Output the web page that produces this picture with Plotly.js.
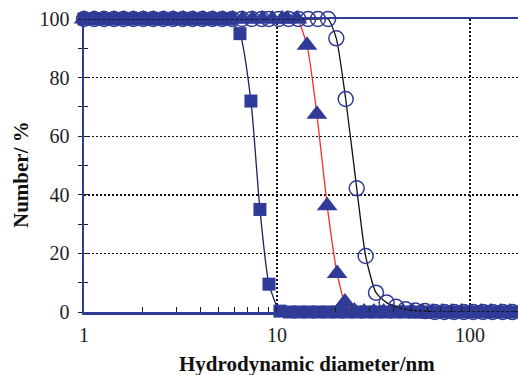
<!DOCTYPE html>
<html>
<head>
<meta charset="utf-8">
<script src="https://cdn.plot.ly/plotly-3.0.1.min.js"></script>
<style>
  html, body { margin: 0; padding: 0; background: #ffffff; overflow: hidden; }
  #chart { width: 518px; height: 375px; }
</style>
</head>
<body>
<div id="chart"></div>
<script>
// Number distributions (%) against hydrodynamic diameter (nm)
const squareDiameter = [1, 1.12, 1.26, 1.41, 1.58, 1.78, 2.0, 2.24, 2.51, 2.82, 3.16, 3.55, 3.98, 4.47, 5.01, 5.65,
  6.43, 7.33, 8.16, 9.09, 10.36, 11.6, 13.0, 14.6, 16.4, 18.4, 20.6, 23.1, 25.9, 29.1, 32.6, 36.6, 41.1, 46.1,
  51.7, 58.0, 65.1, 73.0, 81.9, 91.9, 103, 116, 130, 146, 164, 184];
const squareNumber = [100, 100, 100, 100, 100, 100, 100, 100, 100, 100, 100, 100, 100, 100, 100, 100,
  95, 72, 35, 9.5, 0.3, 0, 0, 0, 0, 0, 0, 0, 0, 0, 0, 0, 0, 0,
  0, 0, 0, 0, 0, 0, 0, 0, 0, 0, 0, 0];

const triangleDiameter = [1, 1.13, 1.27, 1.43, 1.61, 1.81, 2.04, 2.29, 2.58, 2.9, 3.27, 3.68, 4.14, 4.66, 5.24,
  5.9, 6.64, 7.47, 8.41, 9.46, 10.65, 11.3, 12.7, 14.3, 16.1, 18.2, 20.5, 22.5, 25.2, 28.3, 31.8, 35.7, 40.1,
  45.0, 50.6, 56.8, 63.8, 71.6, 80.4, 90.3, 101, 114, 128, 144, 161, 181];
const triangleNumber = [100, 100, 100, 100, 100, 100, 100, 100, 100, 100, 100, 100, 100, 100, 100,
  100, 100, 100, 100, 100, 100, 100, 100, 91, 67.5, 36.3, 13.1, 3.4, 0.3, 0, 0, 0, 0,
  0, 0, 0, 0, 0, 0, 0, 0, 0, 0, 0, 0, 0];

const circleDiameter = [1, 1.13, 1.27, 1.43, 1.6, 1.8, 2.03, 2.28, 2.57, 2.89, 3.25, 3.65, 4.11, 4.62, 5.2,
  5.85, 6.58, 7.4, 8.33, 9.07, 10.2, 11.5, 12.9, 14.5, 16.3, 18.4, 20.3, 22.7, 25.9, 28.8, 32.6, 37.0, 41.4,
  46.4, 52.1, 58.5, 65.7, 73.7, 82.8, 92.9, 104, 117, 131, 148, 166, 186];
const circleNumber = [100, 100, 100, 100, 100, 100, 100, 100, 100, 100, 100, 100, 100, 100, 100,
  100, 100, 100, 100, 100, 100, 100, 100, 100, 100, 100, 93.4, 72.7, 42.2, 19.1, 6.6, 3.2, 1.8,
  0.9, 0.5, 0.3, 0, 0, 0, 0, 0, 0, 0, 0, 0, 0];

const xTickValues = [1, 10, 100];
const xTickText = ['1', '10', '100'];
const xMinorValues = [2, 3, 4, 5, 6, 7, 8, 9, 20, 30, 40, 50, 60, 70, 80, 90, 200];
const yTickValues = [0, 20, 40, 60, 80, 100];

const BLUE = '#2f3b97';
const SERIF = 'Liberation Serif';
const INK = '#1e1e1e';

const traces = [
  {
    x: squareDiameter, y: squareNumber, type: 'scatter', mode: 'lines+markers',
    line: { color: '#1c2160', width: 1.3, shape: 'spline', smoothing: 0.6 },
    marker: { symbol: 'square', size: 13, color: BLUE },
    cliponaxis: false, showlegend: false, hoverinfo: 'x+y'
  },
  {
    x: triangleDiameter, y: triangleNumber, type: 'scatter', mode: 'lines+markers',
    line: { color: '#ff2a2a', width: 1.3, shape: 'spline', smoothing: 0.6 },
    marker: { symbol: 'triangle-up', size: 18, color: BLUE },
    cliponaxis: false, showlegend: false, hoverinfo: 'x+y'
  },
  {
    x: circleDiameter, y: circleNumber, type: 'scatter', mode: 'lines+markers',
    line: { color: '#111111', width: 1.3, shape: 'spline', smoothing: 0.6 },
    marker: { symbol: 'circle-open', size: 15, color: BLUE, line: { width: 1.5, color: BLUE } },
    cliponaxis: false, showlegend: false, hoverinfo: 'x+y'
  },
  // empty trace that carries the inward half of the crossing y ticks
  { x: [], y: [], type: 'scatter', xaxis: 'x', yaxis: 'y2', showlegend: false, hoverinfo: 'skip' }
];

const layout = {
  width: 518, height: 375,
  margin: { l: 84, r: 0, t: 19, b: 63 },
  paper_bgcolor: '#ffffff', plot_bgcolor: '#ffffff',
  font: { family: SERIF, size: 20, color: INK },
  xaxis: {
    type: 'log', range: [0, 2.249],
    tickmode: 'array', tickvals: xTickValues, ticktext: xTickText,
    ticks: 'inside', ticklen: 5, tickcolor: INK, tickwidth: 1,
    ticklabelstandoff: 3,
    minor: { tickmode: 'array', tickvals: xMinorValues, ticks: 'inside', ticklen: 5, tickcolor: INK, tickwidth: 1, showgrid: false },
    showgrid: true, gridcolor: '#111111', gridwidth: 1.4, griddash: '2px,2px',
    showline: true, linecolor: BLUE, linewidth: 2.5, mirror: true,
    zeroline: false, tickfont: { family: SERIF, size: 20, color: INK }
  },
  yaxis: {
    range: [0, 100],
    tickmode: 'array', tickvals: yTickValues,
    ticks: 'outside', ticklen: 4, tickcolor: INK, tickwidth: 1,
    ticklabelstandoff: 4,
    minor: { dtick: 10, ticks: 'outside', ticklen: 4, tickcolor: INK, tickwidth: 1, showgrid: false },
    showgrid: true, gridcolor: '#111111', gridwidth: 1.4, griddash: '2px,2px',
    showline: true, linecolor: BLUE, linewidth: 2.5, mirror: false,
    zeroline: false, tickfont: { family: SERIF, size: 20, color: INK }
  },
  yaxis2: {
    overlaying: 'y', side: 'left', range: [0, 100],
    tickmode: 'array', tickvals: yTickValues,
    ticks: 'inside', ticklen: 4, tickcolor: INK, tickwidth: 1,
    minor: { dtick: 10, ticks: 'inside', ticklen: 4, tickcolor: INK, tickwidth: 1, showgrid: false },
    showticklabels: false, showgrid: false, showline: false, zeroline: false
  },
  annotations: [
    {
      text: '<b>Hydrodynamic diameter/nm</b>', xref: 'paper', yref: 'paper',
      x: (307 - 84) / 434, y: 0, xanchor: 'center', yanchor: 'middle',
      yshift: -52, showarrow: false,
      font: { family: SERIF, size: 21, color: '#111111' }
    },
    {
      text: '<b>Number/ %</b>', xref: 'paper', yref: 'paper',
      x: 0, y: (312 - 175) / 293, xanchor: 'center', yanchor: 'middle',
      xshift: -63, textangle: -90, showarrow: false,
      font: { family: SERIF, size: 21, color: '#111111' }
    }
  ]
};

Plotly.newPlot('chart', traces, layout, { staticPlot: true, displayModeBar: false });
</script>
</body>
</html>
